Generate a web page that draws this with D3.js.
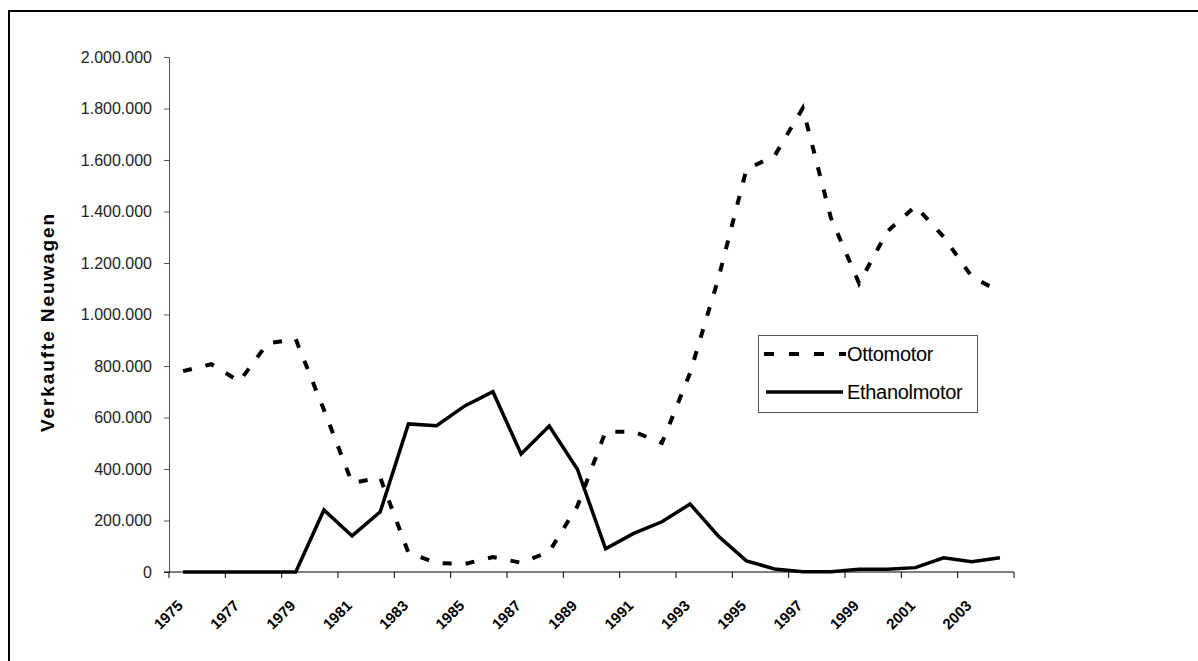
<!DOCTYPE html>
<html><head><meta charset="utf-8">
<script src="https://cdn.jsdelivr.net/npm/d3@7"></script>
<style>body{margin:0;background:#fff}svg{display:block}</style>
</head><body>
<svg id="c" width="1198" height="661"></svg>
<script>
const years = d3.range(1975, 2005);
const ottomotor = [780000, 807000, 740000, 888000, 904000, 630000, 346000, 366000, 75000, 35000,
  31000, 58000, 36000, 79000, 256000, 545000, 545000, 501000, 773000, 1138000,
  1564000, 1616000, 1801000, 1375000, 1121000, 1322000, 1421000, 1302000, 1147000, 1088000];
const ethanolmotor = [0, 0, 0, 0, 0, 241000, 140000, 234000, 575000, 568000,
  645000, 700000, 458000, 567000, 399000, 90000, 150000, 195000, 264000, 140000,
  43000, 12000, 1000, 1000, 11000, 11000, 17000, 55000, 40000, 55000];
const yTicks = [0, 200000, 400000, 600000, 800000, 1000000, 1200000, 1400000, 1600000, 1800000, 2000000];
const xLabels = [1975, 1977, 1979, 1981, 1983, 1985, 1987, 1989, 1991, 1993, 1995, 1997, 1999, 2001, 2003];
const seriesNames = ["Ottomotor", "Ethanolmotor"];

const svg = d3.select("#c");
const L = 169, R = 1014, T = 57, B = 572;
const FONT = "Liberation Sans, Arial, sans-serif";

// outer frame (top and left visible)
svg.append("rect").attr("x", 9).attr("y", 11).attr("width", 1300).attr("height", 800)
  .attr("fill", "none").attr("stroke", "#000").attr("stroke-width", 2);

const x = d3.scaleBand().domain(years).range([L, R]).padding(0);
const cx = d => x(d) + x.bandwidth() / 2;
const y = d3.scaleLinear().domain([0, 2000000]).range([B, T]);

const fmt = v => d3.format(",")(v).replace(/,/g, ".");

// Y axis
const ya = svg.append("g").attr("transform", `translate(${L},0)`)
  .call(d3.axisLeft(y).tickValues(yTicks).tickSize(5).tickPadding(12).tickFormat(fmt));
ya.select(".domain").attr("stroke", "#555");
ya.selectAll(".tick line").attr("stroke", "#555");
ya.selectAll("text").attr("font-family", FONT)
  .attr("font-size", 16).attr("fill", "#222");

// X axis
const xa = svg.append("g").attr("transform", `translate(0,${B})`);
xa.append("line").attr("x1", L - 5).attr("x2", R).attr("y1", 0).attr("y2", 0).attr("stroke", "#000");
const tickPos = d3.range(0, years.length + 1, 2).map(i => L + i * x.bandwidth());
xa.selectAll("line.t").data(tickPos).join("line").attr("class", "t")
  .attr("x1", d => d).attr("x2", d => d).attr("y1", 0).attr("y2", 6).attr("stroke", "#000");
xa.selectAll("text").data(xLabels).join("text")
  .attr("transform", d => `translate(${cx(d) - 3},${31}) rotate(-45)`)
  .attr("text-anchor", "end").attr("dy", "0.35em")
  .attr("font-family", FONT).attr("font-size", 15)
  .attr("font-weight", "bold").attr("fill", "#000").text(d => d);

// Y title
svg.append("text").attr("transform", `translate(54,322) rotate(-90)`)
  .attr("text-anchor", "middle").attr("font-family", FONT)
  .attr("font-size", 19).attr("font-weight", "bold").attr("letter-spacing", 1.9)
  .text("Verkaufte Neuwagen");

// lines
const line = d3.line().x((d, i) => cx(years[i])).y(d => y(d));
svg.append("path").datum(ottomotor).attr("d", line).attr("fill", "none")
  .attr("stroke", "#000").attr("stroke-width", 4).attr("stroke-dasharray", "9,14");
svg.append("path").datum(ethanolmotor).attr("d", line).attr("fill", "none")
  .attr("stroke", "#000").attr("stroke-width", 3.5).attr("stroke-linejoin", "miter");

// legend
const lg = svg.append("g");
lg.append("rect").attr("x", 758.5).attr("y", 335.5).attr("width", 219).attr("height", 77)
  .attr("fill", "#fff").attr("stroke", "#555");
lg.append("line").attr("x1", 764).attr("x2", 846).attr("y1", 354).attr("y2", 354)
  .attr("stroke", "#000").attr("stroke-width", 4).attr("stroke-dasharray", "10,15");
lg.append("line").attr("x1", 766).attr("x2", 843).attr("y1", 392).attr("y2", 392)
  .attr("stroke", "#000").attr("stroke-width", 3.5);
lg.selectAll("text").data(seriesNames).join("text")
  .attr("x", 847).attr("y", (d, i) => 354 + i * 38).attr("dy", "0.35em")
  .attr("font-family", FONT).attr("font-size", 20)
  .attr("letter-spacing", "-0.3").text(d => d);
</script>
</body></html>
